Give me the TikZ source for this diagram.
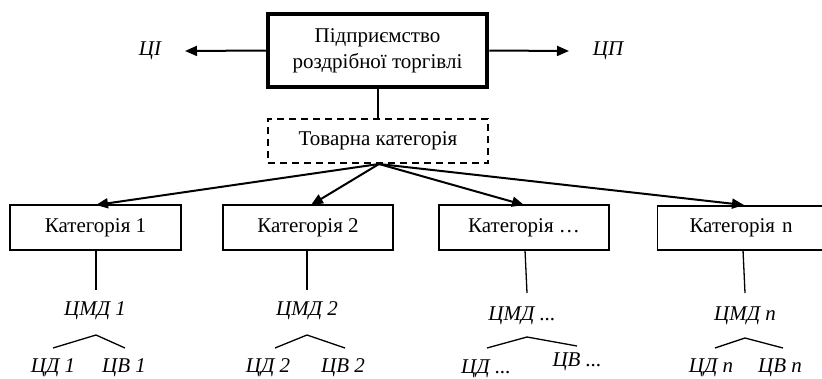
\documentclass[tikz,border=0pt]{standalone}
\usepackage{fontspec}
\setmainfont{Liberation Serif}
\usetikzlibrary{arrows.meta}
\begin{document}
\begin{tikzpicture}[x=1pt,y=-1pt,
  txt/.style={font=\fontsize{21}{25}\selectfont, inner sep=0pt},
  itx/.style={font=\fontsize{21}{25}\selectfont\itshape, inner sep=0pt},
  catbox/.style={draw, line width=1.3pt, font=\fontsize{21}{25}\selectfont, inner sep=0pt},
  arr/.style={line width=2pt, -{Triangle[length=12pt,width=10pt]}},
  thin/.style={line width=1.3pt}]
\useasboundingbox (0,0) rectangle (822,378);
\begin{scope}
\clip (0,0) rectangle (822,378);
\node[draw, line width=4.5pt, minimum width=219pt, minimum height=73pt, txt, align=center] (top) at (377.5,50.5) {Підприємство\\[1pt]роздрібної торгівлі};
\node[draw, dashed, dash pattern=on 7pt off 5pt, line width=1.5pt, minimum width=220pt, minimum height=44pt, txt] (tov) at (378,141) {Товарна категорія};
\node[catbox, minimum width=171pt, minimum height=45pt] (c1) at (95.5,227.5) {Категорія 1};
\node[catbox, minimum width=170pt, minimum height=45pt] (c2) at (308,227.5) {Категорія 2};
\node[catbox, minimum width=170pt, minimum height=45pt] (c3) at (524,227.5) {Категорія …};
\node[catbox, minimum width=175pt, minimum height=44pt, text width=171pt] (c4) at (745,228) {\hspace*{30pt}Категорія n};
\end{scope}
\node[itx] (ci) at (150,51) {ЦІ};
\node[itx] (cp) at (608,51) {ЦП};
\draw[arr] (top.west) -- (185,51) coordinate (ciend);
\draw[arr] (top.east) -- (569,51) coordinate (cpend);
\draw[thin] (378,88) -- (378,119);
\coordinate (src) at (379,164);
\draw[arr] (src) -- (96,205);
\draw[arr] (src) -- (311,205);
\draw[arr] (src) -- (524,205);
\draw[arr] (src) -- (744,205);
% category 1
\draw[thin] (96,250) -- (96,290);
\node[itx] (m1) at (95,311) {ЦМД 1};
\draw[thin] (53,348) -- (96,335) -- (125,348);
\node[itx] (d1) at (53,368) {ЦД 1};
\node[itx] (v1) at (124,368) {ЦВ 1};
% category 2
\draw[thin] (307,250) -- (307,290);
\node[itx] (m2) at (307,311) {ЦМД 2};
\draw[thin] (275,348) -- (307,335) -- (345,348);
\node[itx] (d2) at (268,368) {ЦД 2};
\node[itx] (v2) at (343,368) {ЦВ 2};
% category ...
\draw[thin] (525,250) -- (527,293);
\node[itx] (m3) at (522,316) {ЦМД ...};
\draw[thin] (487,348) -- (527,337) -- (577,346);
\node[itx] (d3) at (486,369) {ЦД ...};
\node[itx] (v3) at (577,362) {ЦВ ...};
% category n
\draw[thin] (743,250) -- (745,293);
\node[itx] (m4) at (745,316) {ЦМД \textit{n}};
\draw[thin] (715,348) -- (745,338) -- (783,348);
\node[itx] (d4) at (711,368) {ЦД \textit{n}};
\node[itx] (v4) at (780,368) {ЦВ \textit{n}};
\end{tikzpicture}
\end{document}
